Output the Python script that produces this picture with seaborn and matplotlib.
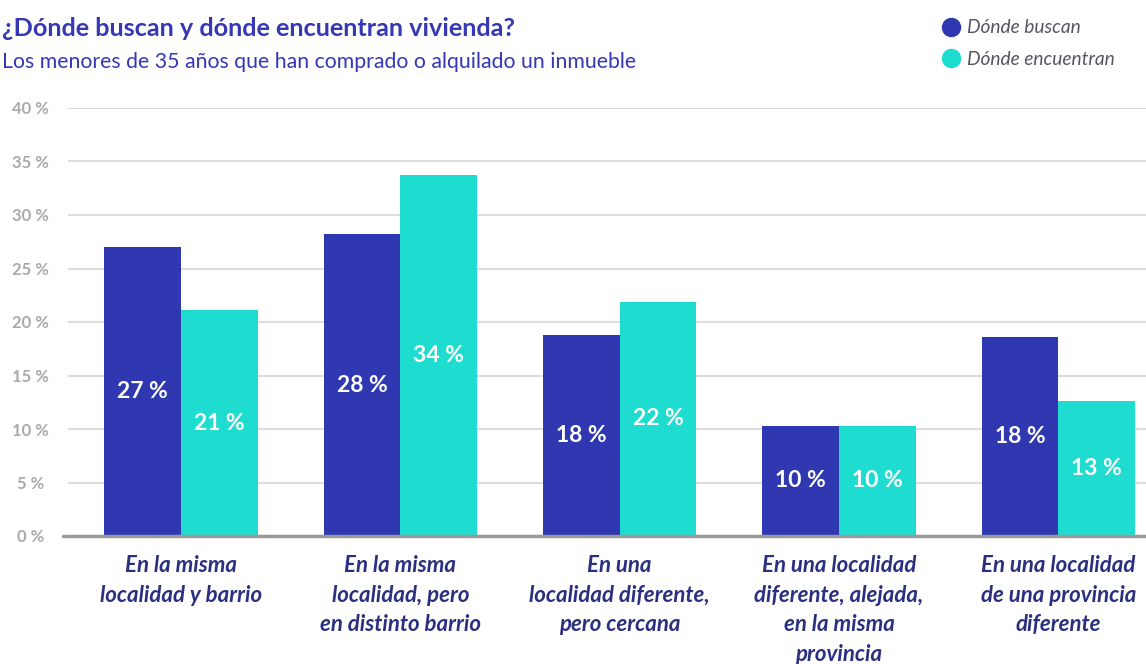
import pandas as pd
import seaborn as sns
import matplotlib.pyplot as plt
from matplotlib.lines import Line2D

# Data
categorias = [
    "En la misma\nlocalidad y barrio",
    "En la misma\nlocalidad, pero\nen distinto barrio",
    "En una\nlocalidad diferente,\npero cercana",
    "En una localidad\ndiferente, alejada,\nen la misma\nprovincia",
    "En una localidad\nde una provincia\ndiferente",
]
series = ["Dónde buscan", "Dónde encuentran"]
buscan = [27.0, 28.2, 18.8, 10.3, 18.6]
encuentran = [21.1, 33.7, 21.9, 10.3, 12.6]
etiquetas_buscan = ["27 %", "28 %", "18 %", "10 %", "18 %"]
etiquetas_encuentran = ["21 %", "34 %", "22 %", "10 %", "13 %"]
ticks_y = [0, 5, 10, 15, 20, 25, 30, 35, 40]

azul = "#2f38b0"
turquesa = "#1fdcd0"
titulo_color = "#3537b5"
texto_x = "#2b2f80"

df = pd.DataFrame({
    "categoria": categorias * 2,
    "serie": [series[0]] * 5 + [series[1]] * 5,
    "valor": buscan + encuentran,
})

sns.set_theme(style="white")
plt.rcParams["font.family"] = ["Lato", "DejaVu Sans"]

fig = plt.figure(figsize=(11.46, 6.64), dpi=100)
ax = fig.add_axes([68 / 1146, 128 / 664, 1 - 68 / 1146, 428 / 664])

sns.barplot(data=df, x="categoria", y="valor", hue="serie",
            palette=[azul, turquesa], width=0.70, saturation=1,
            legend=False, ax=ax, linewidth=0)

# value labels inside bars
for cont, labs in zip(ax.containers, [etiquetas_buscan, etiquetas_encuentran]):
    ax.bar_label(cont, labels=labs, label_type="center", color="white",
                 fontsize=16.5, fontweight="bold")

ax.set_ylim(0, 40)
ax.set_xlim(-0.515, 4.40)
ax.set_yticks(ticks_y)
ax.set_yticklabels([f"{t} %" for t in ticks_y], color="#aaaaaa",
                   fontsize=12, fontweight="bold", ha="center")
ax.tick_params(axis="y", length=0, pad=27)
ax.tick_params(axis="x", length=0, pad=14)
for lab in ax.get_xticklabels():
    lab.set_fontsize(16)
    lab.set_style("italic")
    lab.set_fontweight("bold")
    lab.set_color(texto_x)
    lab.set_linespacing(1.5)
    lab.set_va("top")

ax.set_xlabel("")
ax.set_ylabel("")
ax.grid(axis="y", color="#dddddd", linewidth=1.5)
ax.set_axisbelow(True)
for s in ["top", "right", "left", "bottom"]:
    ax.spines[s].set_visible(False)
ax.axhline(0, color="#999999", linewidth=2.5, xmin=-0.005, clip_on=False)

# titles
fig.text(2 / 1146, 1 - 29 / 664, "¿Dónde buscan y dónde encuentran vivienda?",
         fontsize=18.2, fontweight="bold", color=titulo_color, va="center")
fig.text(2 / 1146, 1 - 62 / 664,
         "Los menores de 35 años que han comprado o alquilado un inmueble",
         fontsize=15.3, color=titulo_color, va="center")

# legend
handles = [Line2D([], [], marker="o", linestyle="", markersize=13,
                  markerfacecolor=c, markeredgecolor=c) for c in [azul, turquesa]]
leg = fig.legend(handles, series, loc="upper left",
                 bbox_to_anchor=(922 / 1146, 1 - 2 / 664), frameon=False,
                 fontsize=13.8, labelspacing=0.75, handletextpad=0.25,
                 handlelength=1.2)
for t in leg.get_texts():
    t.set_style("italic")
    t.set_color("#555566")

fig.savefig("out.png", dpi=100)
